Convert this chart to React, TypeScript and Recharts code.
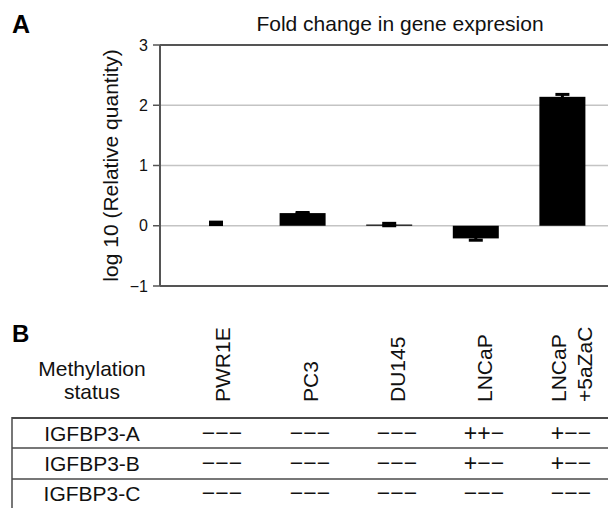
import { BarChart, Bar, XAxis, YAxis, CartesianGrid, ReferenceLine, ErrorBar } from 'recharts'

// panel A: log10 fold change per cell line
const categories = ['PWR1E', 'PC3', 'DU145', 'LNCaP', 'LNCaP +5aZaC']
const logFoldChange = [0.04, 0.21, 0.02, -0.21, 2.14]
const errors = [0.02, 0.01, 0.02, 0.03, 0.04]
const yTicks = [-1, 0, 1, 2, 3]

// panel B: methylation status table
const columnLabels = [['PWR1E'], ['PC3'], ['DU145'], ['LNCaP'], ['LNCaP', '+5aZaC']]
const genes = ['IGFBP3-A', 'IGFBP3-B', 'IGFBP3-C']
const methylA = ['−−−', '−−−', '−−−', '++−', '+−−']
const methylB = ['−−−', '−−−', '−−−', '+−−', '+−−']
const methylC = ['−−−', '−−−', '−−−', '−−−', '−−−']
const methylation = [methylA, methylB, methylC]

const chartData = categories.map((name, i) => ({ name, value: logFoldChange[i], err: errors[i] }))

const FONT = '"Liberation Sans", Arial, Helvetica, sans-serif'
const AXIS = '#555'
const GRID = '#c4c4c4'
const TEXT = '#111'
const LINE = '#4a4a4a'

// layout of the table (not data)
const colX = [222, 310, 397, 484, 571]
const rowBase = [441, 471, 501]
const rowLines = [448, 479]

const BarShape = (props: any) => {
    const { x, y, width, height, payload } = props
    const w = payload.name === 'PWR1E' ? 13 : width
    const top = Math.min(y, y + height)
    return <rect x={x + (width - w) / 2} y={top} width={w} height={Math.abs(height)} fill="#000" />
}

const fmt = (v: number) => (v < 0 ? `−${Math.abs(v)}` : `${v}`)

export default function App() {
    return (
        <div
            style={{
                position: 'absolute',
                left: 0,
                top: 0,
                width: 608,
                height: 508,
                overflow: 'hidden',
                background: '#fff',
                fontFamily: FONT,
            }}
        >
            <BarChart
                width={608}
                height={300}
                data={chartData}
                margin={{ top: 45, right: 0, left: 0, bottom: 14 }}
                barSize={46}
            >
                <CartesianGrid horizontal vertical={false} stroke={GRID} strokeWidth={1.5} />
                <XAxis dataKey="name" hide padding={{ left: 13, right: 2 }} />
                <YAxis
                    domain={[-1, 3]}
                    ticks={yTicks}
                    width={160}
                    tickFormatter={fmt}
                    tickSize={7}
                    tickMargin={5}
                    axisLine={{ stroke: AXIS, strokeWidth: 2 }}
                    tickLine={{ stroke: AXIS, strokeWidth: 1.5 }}
                    tick={{ fontSize: 16, fill: TEXT }}
                    label={{
                        value: 'log 10 (Relative quantity)',
                        angle: -90,
                        position: 'center',
                        dx: 31,
                        style: { fontSize: 21, fill: TEXT, textAnchor: 'middle' },
                    }}
                />
                <ReferenceLine y={3} stroke={AXIS} strokeWidth={2} />
                <ReferenceLine y={-1} stroke={AXIS} strokeWidth={2} />
                <Bar dataKey="value" fill="#000" isAnimationActive={false} shape={BarShape}>
                    <ErrorBar dataKey="err" width={7} stroke="#000" strokeWidth={3} direction="y" />
                </Bar>
            </BarChart>

            <svg
                width={608}
                height={508}
                style={{ position: 'absolute', left: 0, top: 0, pointerEvents: 'none' }}
                fontFamily={FONT}
            >
                <text x={12} y={33} fontSize={25} fontWeight="bold" fill="#000">A</text>
                <text x={400} y={31} fontSize={21} fill={TEXT} textAnchor="middle">
                    Fold change in gene expresion
                </text>

                <text x={12} y={342} fontSize={24} fontWeight="bold" fill="#000">B</text>
                <text x={92} y={376} fontSize={21} fill={TEXT} textAnchor="middle">Methylation</text>
                <text x={92} y={399} fontSize={21} fill={TEXT} textAnchor="middle">status</text>

                {columnLabels.map((lines, i) =>
                    lines.map((t, j) => {
                        const bx = colX[i] + 8 - (lines.length - 1) * 13 + j * 26
                        return (
                            <text
                                key={`${i}-${j}`}
                                transform={`translate(${bx}, 402) rotate(-90)`}
                                fontSize={21}
                                fill={TEXT}
                            >
                                {t}
                            </text>
                        )
                    })
                )}

                <line x1={12} x2={608} y1={418} y2={418} stroke={LINE} strokeWidth={2} />
                {rowLines.map((y) => (
                    <line key={y} x1={12} x2={608} y1={y} y2={y} stroke={LINE} strokeWidth={1.5} />
                ))}
                <line x1={12} x2={12} y1={417} y2={508} stroke={LINE} strokeWidth={1.5} />

                {genes.map((g, r) => (
                    <g key={g}>
                        <text x={92} y={rowBase[r]} fontSize={21} fill={TEXT} textAnchor="middle">{g}</text>
                        {methylation[r].map((s, c) => (
                            <text key={c} x={colX[c]} y={rowBase[r]} fontSize={23} fill={TEXT} textAnchor="middle">
                                {s}
                            </text>
                        ))}
                    </g>
                ))}
            </svg>
        </div>
    )
}
